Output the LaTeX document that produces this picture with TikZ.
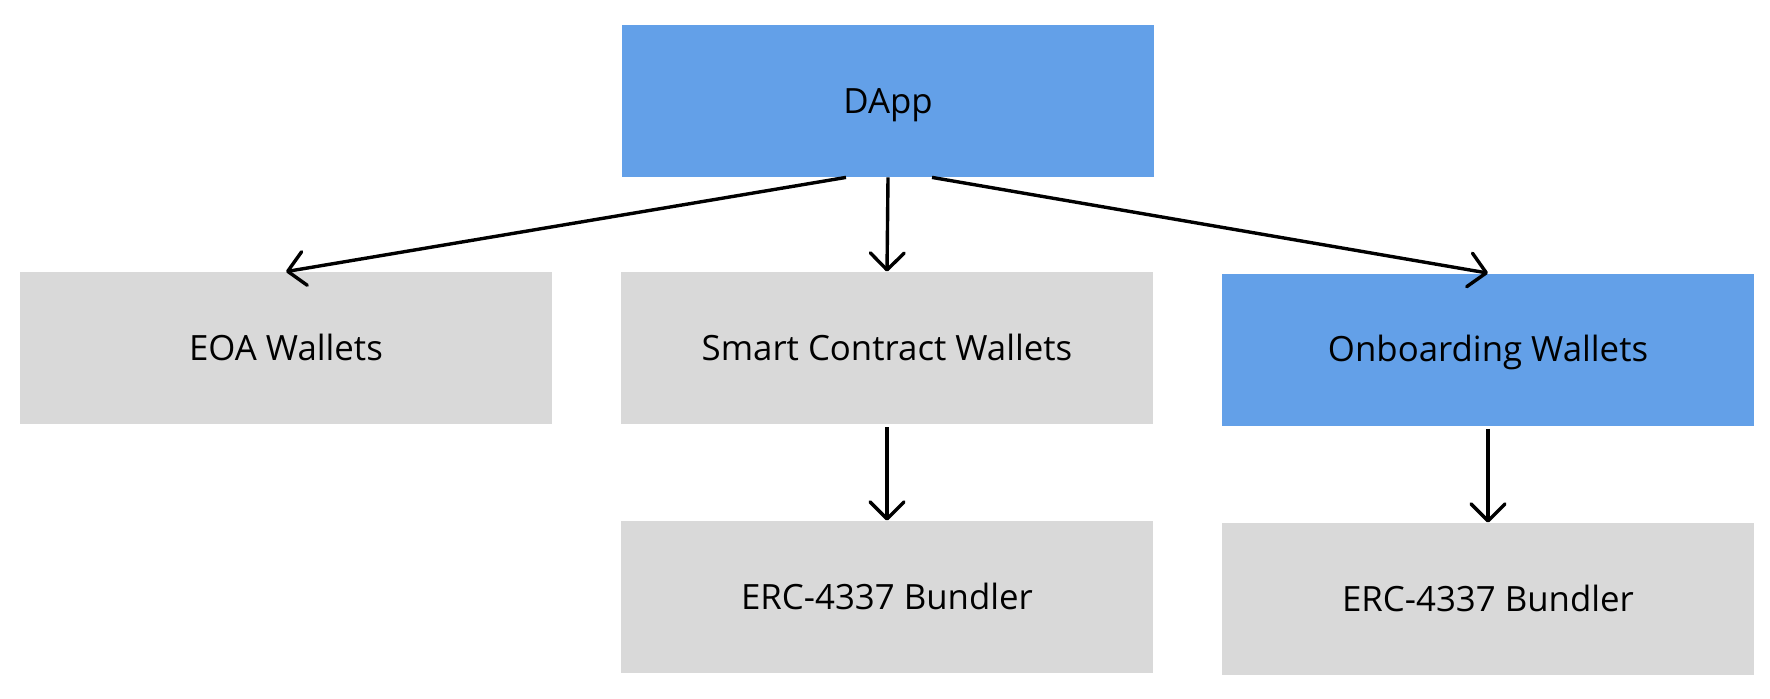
\documentclass[tikz,border=0pt]{standalone}
\usepackage{fontspec}
\setmainfont{Open Sans}
\usetikzlibrary{arrows.meta}
\definecolor{boxblue}{HTML}{63A0E8}
\definecolor{boxgray}{HTML}{D9D9D9}
\begin{document}
\begin{tikzpicture}[x=0.5pt,y=-0.5pt,
  box/.style={rectangle, inner sep=0pt, minimum width=266pt, minimum height=76pt, text height=12pt, text depth=0pt, font=\fontsize{17.4}{20}\selectfont},
  bluebox/.style={box, fill=boxblue},
  graybox/.style={box, fill=boxgray},
  conn/.style={line width=1.7pt, -{Straight Barb[length=8.5pt,width=17pt,line cap=round,line join=round]}}
]
\useasboundingbox (0,0) rectangle (1770,698);
\node[bluebox] (dapp) at (888,101) {DApp};
\node[graybox] (eoa) at (286,348) {EOA Wallets};
\node[graybox] (scw) at (887,348) {Smart Contract Wallets};
\node[bluebox] (onb) at (1488,349.5) {Onboarding Wallets};
\node[graybox] (b1) at (887,597) {ERC-4337 Bundler};
\node[graybox] (b2) at (1488,599) {ERC-4337 Bundler};
\draw[conn] ([xshift=-21pt]dapp.south) -- (eoa.north);
\draw[conn] (dapp.south) -- (scw.north);
\draw[conn] ([xshift=22pt]dapp.south) -- (onb.north);
\draw[conn] ([yshift=-1.5pt]scw.south) -- (b1.north);
\draw[conn] ([yshift=-1.5pt]onb.south) -- (b2.north);
\end{tikzpicture}
\end{document}
